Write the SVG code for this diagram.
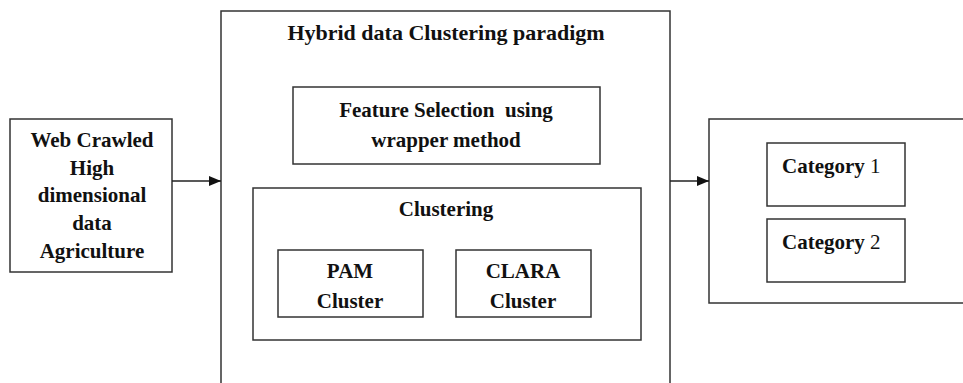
<svg xmlns="http://www.w3.org/2000/svg" width="963" height="383" viewBox="0 0 963 383">
<defs>
<style>
.box{fill:#fff;stroke:#333;stroke-width:1.5}
.t{font-family:'Liberation Serif',Tinos,'DejaVu Serif',serif;font-weight:bold;font-size:21px;fill:#111;text-anchor:middle}
.n{font-weight:normal}
.c{stroke:#222;stroke-width:1.5;fill:none}
</style>
<marker id="ah" viewBox="0 0 12 10" refX="12" refY="5" markerWidth="12" markerHeight="10" markerUnits="userSpaceOnUse" orient="auto">
<path d="M0,0 L12,5 L0,10 Z" fill="#111"/>
</marker>
</defs>
<rect width="963" height="383" fill="#fff"/>
<g id="source">
<rect class="box" x="10" y="119" width="162" height="153"/>
<text class="t" x="92" y="147">Web Crawled</text>
<text class="t" x="92" y="175">High</text>
<text class="t" x="92" y="202">dimensional</text>
<text class="t" x="92" y="230">data</text>
<text class="t" x="92" y="258">Agriculture</text>
</g>
<g id="hybrid">
<rect class="box" x="221" y="11" width="449" height="385"/>
<text class="t" x="446" y="40" style="font-size:22px">Hybrid data Clustering paradigm</text>
</g>
<g id="feature">
<rect class="box" x="293" y="87" width="307" height="77"/>
<text class="t" x="446" y="117" xml:space="preserve">Feature Selection  using</text>
<text class="t" x="446" y="147">wrapper method</text>
</g>
<g id="clustering">
<rect class="box" x="253" y="188" width="388" height="152"/>
<text class="t" x="446" y="216">Clustering</text>
</g>
<g id="pam">
<rect class="box" x="278" y="250" width="145" height="67"/>
<text class="t" x="350" y="278">PAM</text>
<text class="t" x="350" y="308">Cluster</text>
</g>
<g id="clara">
<rect class="box" x="456" y="250" width="135" height="67"/>
<text class="t" x="523" y="278">CLARA</text>
<text class="t" x="523" y="308">Cluster</text>
</g>
<g id="output">
<rect class="box" x="709" y="119" width="270" height="184"/>
</g>
<g id="category1">
<rect class="box" x="767" y="143" width="138" height="63"/>
<text class="t" x="782" y="173" style="text-anchor:start">Category <tspan class="n">1</tspan></text>
</g>
<g id="category2">
<rect class="box" x="767" y="219" width="138" height="63"/>
<text class="t" x="782" y="249" style="text-anchor:start">Category <tspan class="n">2</tspan></text>
</g>
<g id="connectors">
<line class="c" x1="172" y1="181" x2="221" y2="181" marker-end="url(#ah)"/>
<line class="c" x1="670" y1="181" x2="709" y2="181" marker-end="url(#ah)"/>
</g>
</svg>
